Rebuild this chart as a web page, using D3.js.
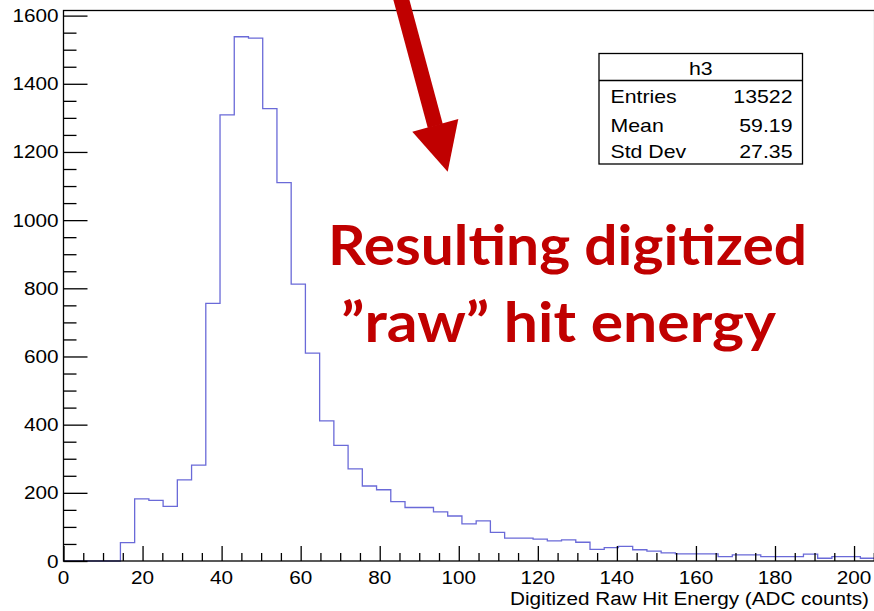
<!DOCTYPE html>
<html>
<head>
<meta charset="utf-8">
<script src="https://cdn.jsdelivr.net/npm/d3@7"></script>
<style>
  html, body { margin: 0; padding: 0; background: #fff; }
  svg { display: block; }
</style>
</head>
<body>
<svg id="chart" width="874" height="611"></svg>
<script>
// Histogram h3: digitized raw hit energy, 57 bins over [0, 205.2]
const xMin = 0;
const xMax = 205.2;
const counts = [
  0, 0, 0, 0, 54, 182, 178, 160, 238, 281,
  756, 1309, 1538, 1534, 1327, 1110, 812, 610, 411, 339,
  270, 220, 209, 174, 157, 157, 144, 132, 109, 118,
  84, 67, 67, 64, 59, 62, 55, 34, 39, 43,
  33, 29, 24, 21, 21, 21, 13, 18, 18, 13,
  13, 13, 20, 8, 13, 13, 8
];
const yMaxDomain = 1615;
const xTickValues = [0, 20, 40, 60, 80, 100, 120, 140, 160, 180, 200];
const yTickValues = [0, 200, 400, 600, 800, 1000, 1200, 1400, 1600];
const statsTitle = "h3";
const statsLabels = ["Entries", "Mean", "Std Dev"];
const statsValues = ["13522", "59.19", "27.35"];
const xTitle = "Digitized Raw Hit Energy (ADC counts)";
const noteLines = ["Resulting digitized", "\u201draw\u201d hit energy"];

const rootFont = "'Liberation Sans', Arial, Helvetica, sans-serif";
const lineColor = "#6a6ad8";
const red = "#c00000";
const textStretch = 1.15;

const svg = d3.select("#chart");
const plot = { left: 63.5, right: 874.6, top: 10.5, bottom: 561 };

const x = d3.scaleLinear().domain([xMin, xMax]).range([plot.left, plot.right]);
const y = d3.scaleLinear().domain([0, yMaxDomain]).range([plot.bottom, plot.top]);

// widen glyphs horizontally (ROOT canvas text is rendered wide)
function stretch(sel, k) {
  sel.each(function () {
    const w = this.getComputedTextLength();
    this.setAttribute("textLength", w * k);
    this.setAttribute("lengthAdjust", "spacingAndGlyphs");
  });
}

svg.append("rect").attr("width", 874).attr("height", 611).attr("fill", "#fff");

// histogram outline as a step path (drawn first so the axes sit on top)
const binW = (xMax - xMin) / counts.length;
const pts = [[x(xMin), y(0)]];
counts.forEach((c, i) => {
  const lo = xMin + i * binW, hi = lo + binW;
  pts.push([x(lo), y(c)]);
  pts.push([x(hi), y(c)]);
});
pts.push([x(xMax), y(0)]);
svg.append("path")
  .attr("d", d3.line()(pts))
  .attr("fill", "none")
  .attr("stroke", lineColor)
  .attr("stroke-width", 1.3);

// frame
svg.append("rect")
  .attr("x", plot.left).attr("y", plot.top)
  .attr("width", plot.right - plot.left).attr("height", plot.bottom - plot.top)
  .attr("fill", "none").attr("stroke", "#000").attr("stroke-width", 1.3);

// y axis: major ticks every 200, minor every 50, drawn inside the frame
const yAxisG = svg.append("g").attr("transform", `translate(${plot.left},0)`);
const yMinor = d3.range(0, yMaxDomain, 50).filter(v => v % 200 !== 0);
yAxisG.append("g").call(
  d3.axisRight(y).tickValues(yMinor).tickSize(13).tickFormat("")
).call(g => g.select(".domain").remove());
yAxisG.append("g").call(
  d3.axisRight(y).tickValues(yTickValues).tickSize(24).tickFormat("")
).call(g => g.select(".domain").remove());
yAxisG.selectAll(".tick line").attr("stroke", "#000").attr("stroke-width", 1.3);

const yLabels = svg.append("g");
yLabels.selectAll("text").data(yTickValues).join("text")
  .attr("x", 58.5)
  .attr("y", d => y(d) + 6.5)
  .attr("text-anchor", "end")
  .attr("font-family", rootFont)
  .attr("font-size", 18)
  .attr("fill", "#000")
  .text(d => d);
stretch(yLabels.selectAll("text"), textStretch);

// x axis: major ticks every 20, minor every 5, pointing up
const xAxisG = svg.append("g").attr("transform", `translate(0,${plot.bottom})`);
const xMinor = d3.range(0, xMax, 5).filter(v => v % 20 !== 0);
xAxisG.append("g").call(
  d3.axisTop(x).tickValues(xMinor).tickSize(8).tickFormat("")
).call(g => g.select(".domain").remove());
xAxisG.append("g").call(
  d3.axisTop(x).tickValues(xTickValues).tickSize(15).tickFormat("")
).call(g => g.select(".domain").remove());
xAxisG.selectAll(".tick line").attr("stroke", "#000").attr("stroke-width", 1.3);

const xLabels = svg.append("g");
xLabels.selectAll("text").data(xTickValues).join("text")
  .attr("x", d => x(d))
  .attr("y", 584)
  .attr("text-anchor", "middle")
  .attr("font-family", rootFont)
  .attr("font-size", 18)
  .attr("fill", "#000")
  .text(d => d);
stretch(xLabels.selectAll("text"), textStretch);

const xt = svg.append("text")
  .attr("x", 869).attr("y", 605)
  .attr("text-anchor", "end")
  .attr("font-family", rootFont)
  .attr("font-size", 18)
  .attr("fill", "#000")
  .text(xTitle);
stretch(xt, textStretch);

// statistics box
const box = { x: 599, y: 53.5, w: 203.5, h: 110.5, titleH: 27 };
const stats = svg.append("g");
stats.append("rect")
  .attr("x", box.x).attr("y", box.y).attr("width", box.w).attr("height", box.h)
  .attr("fill", "#fff").attr("stroke", "#000").attr("stroke-width", 1.3);
stats.append("line")
  .attr("x1", box.x).attr("x2", box.x + box.w)
  .attr("y1", box.y + box.titleH).attr("y2", box.y + box.titleH)
  .attr("stroke", "#000").attr("stroke-width", 1.3);
const st = stats.append("text")
  .attr("x", box.x + box.w / 2).attr("y", 75)
  .attr("text-anchor", "middle")
  .attr("font-family", rootFont).attr("font-size", 18.5)
  .text(statsTitle);
const rowY = [103.3, 131.5, 158.3];
const sl = stats.selectAll("text.lab").data(statsLabels).join("text")
  .attr("class", "lab")
  .attr("x", 610.5).attr("y", (d, i) => rowY[i])
  .attr("font-family", rootFont).attr("font-size", 18.5)
  .text(d => d);
const sv = stats.selectAll("text.val").data(statsValues).join("text")
  .attr("class", "val")
  .attr("x", 792.5).attr("y", (d, i) => rowY[i])
  .attr("text-anchor", "end")
  .attr("font-family", rootFont).attr("font-size", 18.5)
  .text(d => d);
stretch(st, textStretch);
stretch(sl, textStretch);
stretch(sv, textStretch);

// annotation arrow
const arrow = svg.append("g").attr("fill", red).attr("stroke", "none");
arrow.append("line")
  .attr("x1", 399.8).attr("y1", -6)
  .attr("x2", 435.3).attr("y2", 126)
  .attr("stroke", red).attr("stroke-width", 15.5);
arrow.append("path")
  .attr("d", "M412.3,131.7 L458.3,119 L447.7,171.7 Z");

// annotation text
const noteG = svg.append("g")
  .attr("fill", red)
  .attr("font-family", "Lato, 'Open Sans', sans-serif")
  .attr("font-weight", 700)
  .attr("font-size", 56);
noteG.append("text")
  .attr("x", 328).attr("y", 265)
  .attr("textLength", 479).attr("lengthAdjust", "spacingAndGlyphs")
  .text(noteLines[0]);
noteG.append("text")
  .attr("x", 341).attr("y", 342)
  .attr("textLength", 435).attr("lengthAdjust", "spacingAndGlyphs")
  .text(noteLines[1]);
</script>
</body>
</html>
